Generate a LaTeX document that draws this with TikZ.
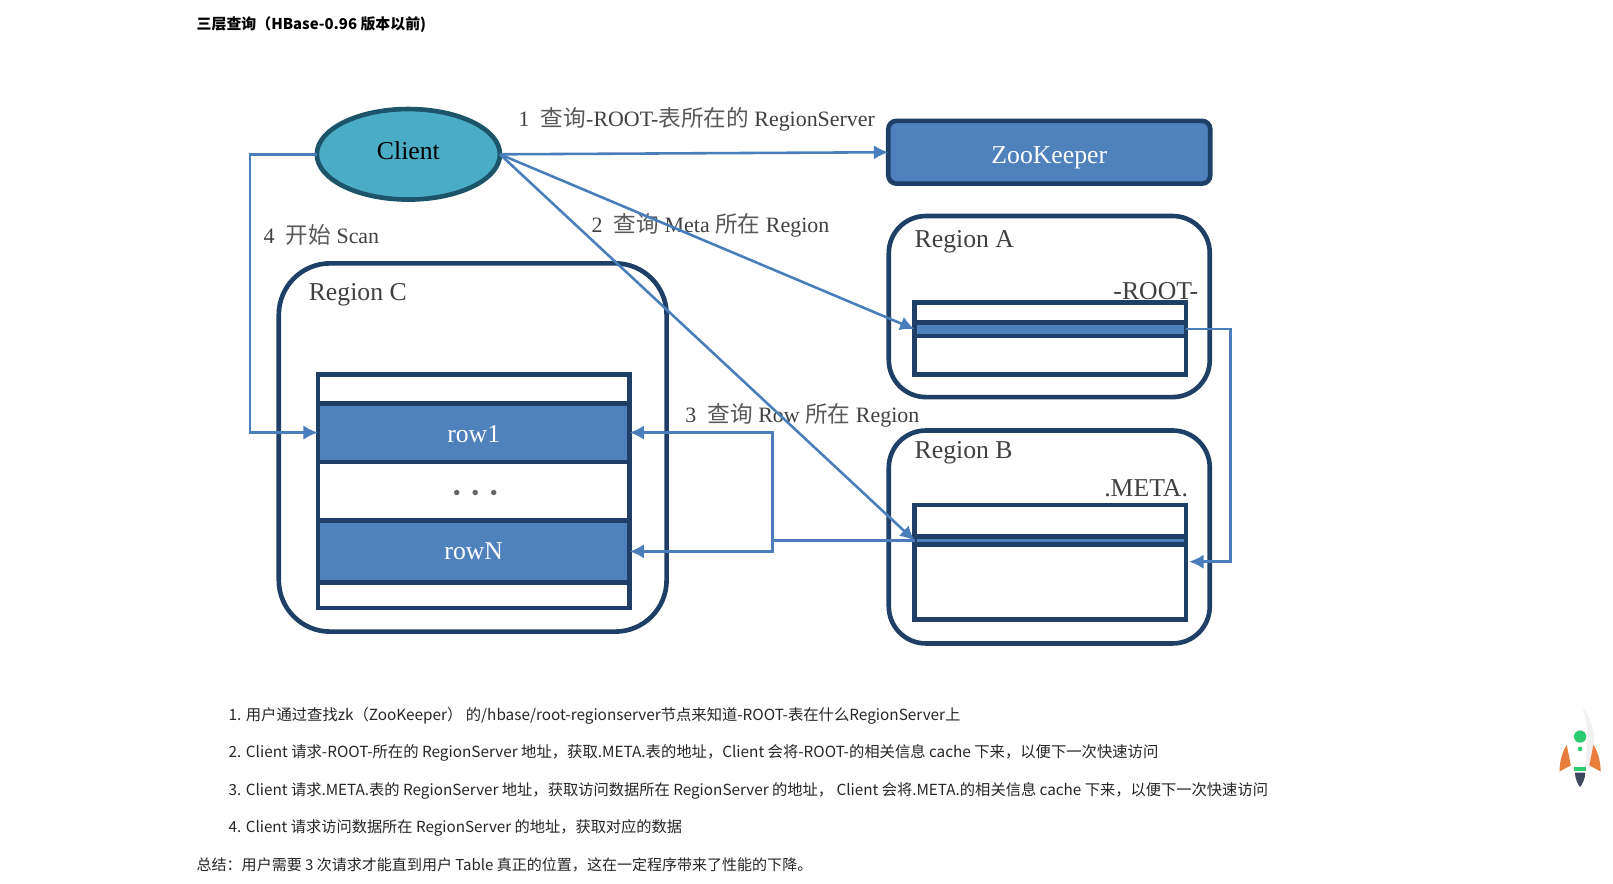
\documentclass[tikz,border=0pt]{standalone}
\usepackage{fontspec}
\usepackage{xcolor}
\usetikzlibrary{arrows.meta,shapes.geometric}
\setmainfont{Liberation Serif}
\newfontfamily\cjk{Noto Sans CJK SC}
\definecolor{linkblue}{HTML}{4A7EBB}
\definecolor{boxblue}{HTML}{4F81BD}
\definecolor{edgeblue}{HTML}{1F3F66}
\definecolor{clientfill}{HTML}{4BACC6}
\definecolor{clientedge}{HTML}{1C5569}
\definecolor{finorange}{HTML}{E87D3C}
\definecolor{rocketgreen}{HTML}{2ECC71}
\definecolor{flamegray}{HTML}{3E485F}
\newcommand{\labelcjk}[1]{{\cjk\fontsize{22}{24}\selectfont\color{black!65}#1}}
\newcommand{\droptext}[2]{\raisebox{-#1pt}[0pt][0pt]{#2}}
\begin{document}
\begin{tikzpicture}[x=1pt,y=-1pt]
        \tikzset{region style/.style={draw=edgeblue, line width=4.5pt, fill=white, rectangle, rounded corners=36pt, outer sep=0pt, inner sep=0pt}}
        \tikzset{table style/.style={draw=edgeblue, line width=4.5pt, fill=white, rectangle, outer sep=0pt, inner sep=0pt, minimum width=264pt}}
        \tikzset{band style/.style={draw=edgeblue, line width=4.5pt, fill=boxblue, rectangle, outer sep=0pt, inner sep=0pt, text=white, font=\fontsize{25}{28}\selectfont}}
        \tikzset{link style/.style={line width=2.5pt, color=linkblue, -{Latex[length=14pt,width=14pt]}}}
        \tikzset{plain link/.style={line width=2.5pt, color=linkblue}}
        \tikzset{name style/.style={anchor=west, inner sep=0pt, text=black!75, font=\fontsize{25}{28}\selectfont}}
        \tikzset{note style/.style={anchor=west, inner sep=0pt, text=black!75, font=\fontsize{21.3}{24}\selectfont}}
        \tikzset{page style/.style={anchor=west, inner sep=0pt, text=black!85, font=\cjk\fontsize{14.9}{17}\selectfont}}

        \useasboundingbox (0,0) rectangle (1568,859);
        \fill[white] (0,0) rectangle (1568,859);

        % page text
        \node[page style, font=\cjk\bfseries\fontsize{14.5}{17}\selectfont, text=black] (title) at (191,24) {三层查询（HBase-0.96 版本以前)};
        \node[page style] (step1) at (222,696) {1. 用户通过查找zk（ZooKeeper） 的/hbase/root-regionserver节点来知道-ROOT-表在什么RegionServer上};
        \node[page style] (step2) at (222,732) {2. Client 请求-ROOT-所在的 RegionServer 地址，获取.META.表的地址，Client 会将-ROOT-的相关信息 cache 下来，以便下一次快速访问};
        \node[page style, font=\cjk\fontsize{14.84}{17}\selectfont] (step3) at (222,769) {3. Client 请求.META.表的 RegionServer 地址，获取访问数据所在 RegionServer 的地址， Client 会将.META.的相关信息 cache 下来，以便下一次快速访问};
        \node[page style, font=\cjk\fontsize{14.8}{17}\selectfont] (step4) at (222,805) {4. Client 请求访问数据所在 RegionServer 的地址，获取对应的数据};
        \node[page style, font=\cjk\fontsize{14.6}{17}\selectfont] (summary) at (191,841) {总结：用户需要 3 次请求才能直到用户 Table 真正的位置，这在一定程序带来了性能的下降。};

        % boxes
        \node[ellipse, draw=clientedge, line width=4.5pt, fill=clientfill, minimum width=178pt, minimum height=88pt, inner sep=0pt, outer sep=0pt, font=\fontsize{25}{28}\selectfont] (client) at (397,150) {\droptext{5.5}{Client}};
        \node[band style, rounded corners=8pt, minimum width=313pt, minimum height=61pt] (zookeeper) at (1020,148) {\droptext{11}{ZooKeeper}};

        \node[region style, minimum width=312pt, minimum height=176pt] (regionA) at (1020,298) {};
        \node[region style, minimum width=312pt, minimum height=207pt] (regionB) at (1020,522) {};
        \node[region style, rounded corners=50pt, minimum width=377pt, minimum height=358pt] (regionC) at (459.5,435) {};

        \node[table style, minimum height=70pt] (tableA) at (1021,329) {};
        \node[table style, minimum height=111pt] (tableB) at (1021,546.5) {};
        \node[table style, minimum width=303pt, minimum height=227pt] (tableC) at (460.5,477.5) {};
        \node[band style, minimum width=264pt, minimum height=13pt] (bandA) at (1021,320) {};
        \node[band style, minimum width=264pt, minimum height=8pt] (bandB) at (1021,525.5) {};
        \node[band style, minimum width=303pt, minimum height=57pt] (row1) at (460.5,420.5) {\droptext{9.5}{row1}};
        \node[band style, minimum width=303pt, minimum height=60pt] (rowN) at (460.5,536) {\droptext{7.5}{rowN}};

        \node[inner sep=0pt, text=black!60, font=\fontsize{22}{24}\selectfont] (dots) at (462,482) {\textbullet\hspace{10.3pt}\textbullet\hspace{10.3pt}\textbullet};

        \node[name style] (nameA) at (889,235) {Region A};
        \node[name style] (nameB) at (889,440) {Region B};
        \node[name style] (nameC) at (300,287) {Region C};
        \node[name style, anchor=east] (nameRoot) at (1165,283) {-ROOT-};
        \node[name style, anchor=east] (nameMeta) at (1155,475) {.META.};

        % labels
        \node[note style] (label1) at (504,116) {1\hspace{11pt}\labelcjk{查询}-ROOT-\labelcjk{表所在的} RegionServer};
        \node[note style] (label2) at (575,219) {2\hspace{11pt}\labelcjk{查询} Meta \labelcjk{所在} Region};
        \node[note style] (label3) at (666,404) {3\hspace{11pt}\labelcjk{查询} Row \labelcjk{所在} Region};
        \node[note style] (label4) at (256,228) {4\hspace{11pt}\labelcjk{开始} Scan};

        % connectors
        \coordinate (feedB) at (1156,546);
        \coordinate (leftturn) at (243,0);
        \coordinate (rightturn) at (1196,0);
        \coordinate (midturn) at (751,0);

        \draw[link style] (client.east) -- (zookeeper.west);
        \draw[link style] (client.east) -- (bandA.west);
        \draw[link style] (client.east) -- (bandB.west);
        \draw[link style] (client.west) -- (client.west -| leftturn) |- (row1.west);
        \draw[link style] (bandA.east) -- (bandA.east -| rightturn) |- (feedB);
        \draw[plain link] (bandB.west) -- (bandB.west -| midturn);
        \draw[link style] (bandB.west -| midturn) |- (row1.east);
        \draw[link style] (bandB.west -| midturn) |- (rowN.east);

        % rocket
        \fill[black!6] (1538,687) .. controls (1552,705) and (1552,728) .. (1547,746) -- (1540,746) .. controls (1544,725) and (1545,705) .. (1538,687) -- cycle;
        \fill[finorange] (1523,724) .. controls (1518,732) and (1516,742) .. (1516,750) -- (1527,744) -- cycle;
        \fill[finorange] (1549,724) .. controls (1554,732) and (1556,742) .. (1556,750) -- (1545,744) -- cycle;
        \fill[rocketgreen] (1536,716) circle (6pt);
        \fill[rocketgreen] (1536,728) circle (2.3pt);
        \fill[rocketgreen] (1530,746) rectangle (1542,749);
        \fill[flamegray] (1531,751) -- (1541,751) .. controls (1541,757) and (1538,763) .. (1536,765) .. controls (1534,763) and (1531,757) .. (1531,751) -- cycle;
    \end{tikzpicture}
\end{document}
